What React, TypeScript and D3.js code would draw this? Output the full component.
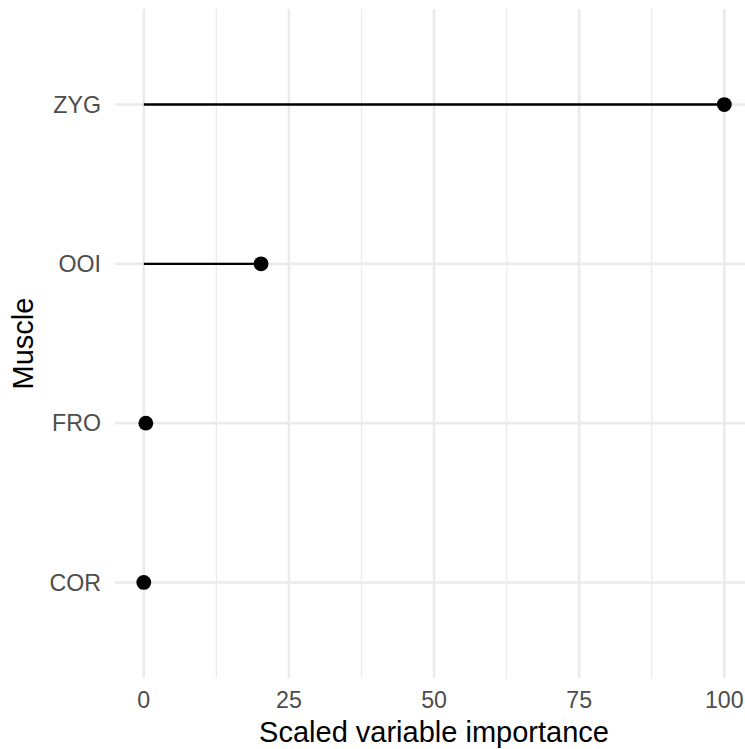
import React from "react";
import * as d3 from "d3";

const muscles: string[] = ["COR", "FRO", "OOI", "ZYG"];
const importance: number[] = [0, 0.35, 20.2, 100];
const xTicks: number[] = [0, 25, 50, 75, 100];
const xMinor: number[] = [12.5, 37.5, 62.5, 87.5];
const xTitle = "Scaled variable importance";
const yTitle = "Muscle";

export default function App() {
  const W = 745, H = 749;
  const panel = { left: 115, right: 745, top: 9, bottom: 678 };
  const x = d3.scaleLinear().domain([0, 100]).range([143.8, 724.3]);
  const y = d3
    .scalePoint<string>()
    .domain(muscles)
    .range([panel.bottom, panel.top])
    .padding(0.6);
  const font = "'Liberation Sans', Arial, Helvetica, sans-serif";
  const grid = "#ebebeb";
  return (
    <svg
      width={W}
      height={H}
      style={{ position: "absolute", left: 0, top: 0, background: "#fff" }}
    >
      <rect x={0} y={0} width={W} height={H} fill="#fff" />
      {xMinor.map((v) => (
        <line key={"mn" + v} x1={x(v)} x2={x(v)} y1={panel.top} y2={panel.bottom} stroke={grid} strokeWidth={1.3} />
      ))}
      {xTicks.map((v) => (
        <line key={"mj" + v} x1={x(v)} x2={x(v)} y1={panel.top} y2={panel.bottom} stroke={grid} strokeWidth={2.6} />
      ))}
      {muscles.map((m) => (
        <line key={"h" + m} x1={panel.left} x2={panel.right} y1={y(m)} y2={y(m)} stroke={grid} strokeWidth={2.6} />
      ))}
      {muscles.map((m, i) => (
        <g key={"p" + m}>
          <line x1={x(0)} x2={x(importance[i])} y1={y(m)} y2={y(m)} stroke="#000" strokeWidth={2.4} />
          <circle cx={x(importance[i])} cy={y(m)} r={7.4} fill="#000" />
        </g>
      ))}
      {muscles.map((m) => (
        <text key={"yl" + m} x={101} y={y(m)} dy="0.36em" textAnchor="end" fontFamily={font} fontSize={23.2} fill="#4d4d4d">
          {m}
        </text>
      ))}
      {xTicks.map((v) => (
        <text key={"xl" + v} x={x(v)} y={708} textAnchor="middle" fontFamily={font} fontSize={23.2} fill="#4d4d4d">
          {v}
        </text>
      ))}
      <text x={(panel.left + 753) / 2} y={742} textAnchor="middle" fontFamily={font} fontSize={29} fill="#000">
        {xTitle}
      </text>
      <text
        transform={`translate(33,${(panel.top + panel.bottom) / 2}) rotate(-90)`}
        textAnchor="middle"
        fontFamily={font}
        fontSize={29}
        fill="#000"
      >
        {yTitle}
      </text>
    </svg>
  );
}
